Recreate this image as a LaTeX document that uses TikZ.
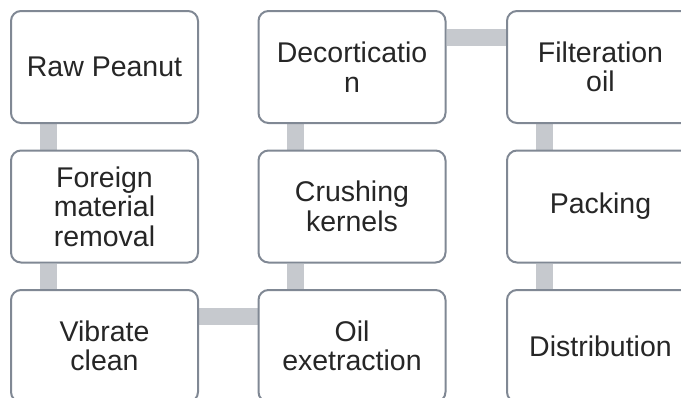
\documentclass[tikz,border=0pt]{standalone}
\usepackage{fontspec}
\setmainfont{Liberation Sans}
\usetikzlibrary{backgrounds}
\definecolor{boxline}{RGB}{128,136,148}
\definecolor{linkbar}{RGB}{198,201,206}
\definecolor{textgray}{RGB}{38,38,38}
\begin{document}
\begin{tikzpicture}[x=1pt,y=-1pt,
  stage/.style={draw=boxline, line width=2pt, fill=white, rounded corners=10pt,
    minimum width=187pt, minimum height=112pt, anchor=north west, align=center,
    text=textgray, font=\fontsize{28.5}{29.5}\selectfont, inner sep=0pt},
  link/.style={draw=linkbar, line width=17pt}]
\useasboundingbox (0,0) rectangle (681,397);
\clip (0,0) rectangle (681,397);

% column 1
\node[stage] (raw)  at (10,10)    {Raw Peanut};
\node[stage] (fmr)  at (10,149.5) {Foreign\\material\\removal};
\node[stage] (vib)  at (10,289)   {Vibrate\\clean};
% column 2
\node[stage] (dec)  at (257.5,10)    {Decorticatio\\n};
\node[stage] (crush) at (257.5,149.5) {Crushing\\kernels};
\node[stage] (oil)  at (257.5,289)   {Oil\\exetraction};
% column 3
\node[stage] (filt) at (506,10)    {Filteration\\oil};
\node[stage] (pack) at (506,149.5) {Packing};
\node[stage] (dist) at (506,289)   {Distribution};

\begin{scope}[on background layer]
  \draw[link] ([xshift=38pt]raw.south west) -- ([xshift=38pt]fmr.north west);
  \draw[link] ([xshift=38pt]fmr.south west) -- ([xshift=38pt]vib.north west);
  \draw[link] ([yshift=-27pt]vib.north east) -- ([yshift=-27pt]oil.north west);
  \draw[link] ([xshift=38pt]oil.north west) -- ([xshift=38pt]crush.south west);
  \draw[link] ([xshift=38pt]crush.north west) -- ([xshift=38pt]dec.south west);
  \draw[link] ([yshift=-27pt]dec.north east) -- ([yshift=-27pt]filt.north west);
  \draw[link] ([xshift=38pt]filt.south west) -- ([xshift=38pt]pack.north west);
  \draw[link] ([xshift=38pt]pack.south west) -- ([xshift=38pt]dist.north west);
\end{scope}
\end{tikzpicture}
\end{document}
